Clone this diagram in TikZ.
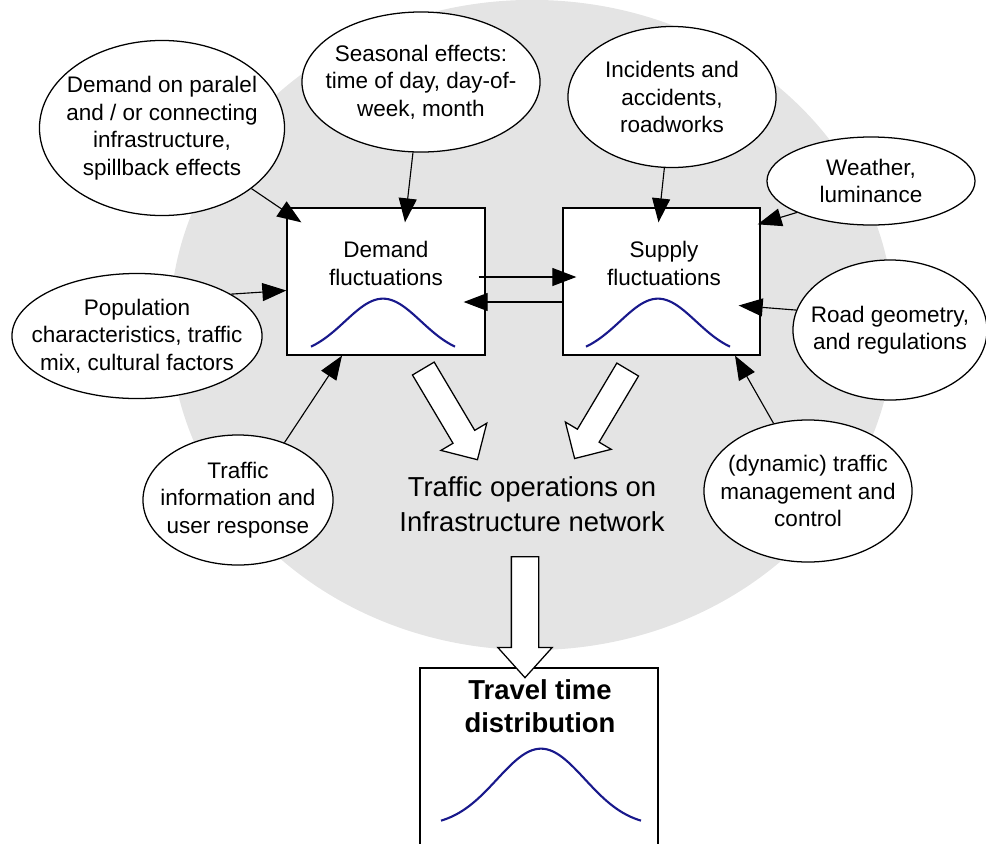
\documentclass[tikz,border=0pt]{standalone}
\usepackage{fontspec}
\setmainfont{Liberation Sans}
\usetikzlibrary{shapes,arrows.meta}
\definecolor{bggrey}{RGB}{228,228,228}
\definecolor{bellblue}{RGB}{25,25,140}
\tikzstyle{el}=[ellipse,draw=black,line width=0.9pt,fill=white,inner sep=0pt]
\tikzstyle{bx}=[rectangle,draw=black,line width=0.9pt,fill=white,inner sep=0pt]
\tikzstyle{lbl}=[align=center,inner sep=0pt,font=\fontsize{16}{19.6}\selectfont]
\tikzstyle{big}=[align=center,inner sep=0pt,font=\fontsize{19.5}{24.9}\selectfont]
\tikzstyle{arr}=[line width=0.8pt,-{Triangle[length=0.6cm,width=0.45cm]}]
\tikzstyle{bell}=[bellblue,line width=1.5pt]
\tikzstyle{fat}=[single arrow,draw=black,line width=0.9pt,fill=white,inner xsep=0pt,inner ysep=0.3cm,single arrow head extend=0.35cm,anchor=tail]

\begin{document}
\begin{tikzpicture}[x=0.025cm,y=-0.025cm]
\useasboundingbox (0,0) rectangle (986,843);
\fill[bggrey] (532,325) ellipse [x radius=9.05cm, y radius=8.125cm];

\node[el,minimum width=6.125cm,minimum height=4.375cm] (paral) at (162,128) {};
\node[el,minimum width=5.95cm,minimum height=3.5cm] (seasonal) at (421,82) {};
\node[el,minimum width=5.2cm,minimum height=3.525cm] (incidents) at (672,97) {};
\node[el,minimum width=5.2cm,minimum height=2.2cm] (weather) at (871,181) {};
\node[el,minimum width=4.85cm,minimum height=3.5cm] (road) at (890,330) {};
\node[el,minimum width=6.25cm,minimum height=3.125cm] (population) at (137,336) {};
\node[el,minimum width=4.75cm,minimum height=3.25cm] (trafinfo) at (238,500) {};
\node[el,minimum width=5.2cm,minimum height=3.55cm] (dynamic) at (808,491) {};

\node[lbl] (paraltxt) at (paral) {Demand on paralel\\and / or connecting\\infrastructure,\\spillback effects};
\node[lbl] (seasonaltxt) at (seasonal) {Seasonal effects:\\time of day, day-of-\\week, month};
\node[lbl] (incidentstxt) at (incidents) {Incidents and\\accidents,\\roadworks};
\node[lbl] (weathertxt) at (weather) {Weather,\\luminance};
\node[lbl] (roadtxt) at (road) {Road geometry,\\and regulations};
\node[lbl] (populationtxt) at (population) {Population\\characteristics, traffic\\mix, cultural factors};
\node[lbl] (trafinfotxt) at (trafinfo) {Traffic\\information and\\user response};
\node[lbl] (dynamictxt) at (dynamic) {(dynamic) traffic\\management and\\control};

\node[bx,minimum width=4.95cm,minimum height=3.675cm] (demand) at (386,281.5) {};
\node[bx,minimum width=4.925cm,minimum height=3.675cm] (supply) at (661.5,281.5) {};
\node[bx,minimum width=5.95cm,minimum height=4.5cm] (travel) at (539,758) {};

\node[lbl] (demandtxt) at (386,263.5) {Demand\\fluctuations};
\node[lbl] (supplytxt) at (664,263.5) {Supply\\fluctuations};
\node[big] (opstxt) at (532,504.5) {Traffic operations on\\Infrastructure network};
\node[big,font=\fontsize{19.5}{23.5}\selectfont\bfseries] (traveltxt) at (540,706.5) {Travel time\\distribution};

\draw[bell,shift={(demand.south)}] plot[domain=-72:72,samples=60] ({\x-3},{-9-48*(exp(-0.5*(\x/38)^2)-0.166)/0.834});
\draw[bell,shift={(supply.south)}] plot[domain=-72:72,samples=60] ({\x-3.5},{-9-48*(exp(-0.5*(\x/38)^2)-0.166)/0.834});
\draw[bell,shift={(travel.south)}] plot[domain=-100:100,samples=80] ({\x+2},{-28-72*(exp(-0.5*(\x/44)^2)-0.0756)/0.9244});

\draw[arr] (paral) -- ([shift={(15,15)}]demand.north west);
\draw[arr] (seasonal) -- ([shift={(19,15)}]demand.north);
\draw[arr] (population.24) -- ([shift={(0,9)}]demand.west);
\draw[arr] (trafinfo.51) -- ([shift={(-44,0)}]demand.south);
\draw[arr] (incidents) -- ([shift={(-3,15)}]supply.north);
\draw[arr] (weather.203) -- ([shift={(-3,17)}]supply.north east);
\draw[arr] (road.168) -- ([shift={(-22,24)}]supply.east);
\draw[arr] (dynamic.117) -- ([shift={(73.5,0)}]supply.south);
\draw[arr] ([shift={(-7,-4.5)}]demand.east) -- ([shift={(14,-4.5)}]supply.west);
\draw[arr] ([shift={(0,20.5)}]supply.west) -- ([shift={(-22,20.5)}]demand.east);

\node[fat,rotate=-59.3,minimum height=2.65cm] (demandout) at (423,368) {};
\node[fat,rotate=-120.8,minimum height=2.59cm] (supplyout) at (628,369) {};
\node[fat,rotate=-90,minimum height=3.025cm,inner ysep=0.325cm,single arrow head extend=0.34cm,single arrow tip angle=84] (opsout) at (525,556) {};
\end{tikzpicture}
\end{document}
